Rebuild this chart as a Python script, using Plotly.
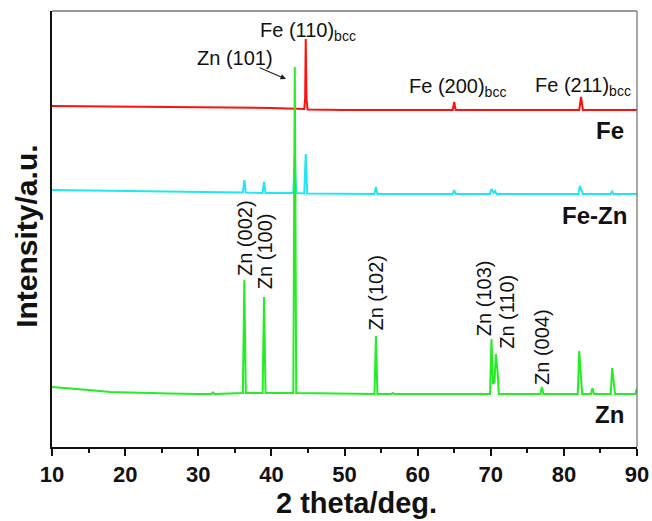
import plotly.graph_objects as go

# ---- data (2 theta in degrees, intensity in arbitrary units above each pattern's own baseline) ----
zn_x = [10, 12, 15, 18, 22, 26, 30, 31.8, 32.0, 32.2, 36.1, 36.3, 36.5, 38.8, 39.0, 39.2,
        43.0, 43.2, 43.4, 54.1, 54.3, 54.5, 56.4, 56.6, 56.8, 69.9, 70.1, 70.3, 70.5, 70.7,
        70.95, 71.1, 76.8, 77.0, 77.2, 81.9, 82.1, 82.35, 82.5, 83.7, 83.9, 84.1, 86.4, 86.6,
        86.85, 87.0, 89.8, 90]
zn_y = [7, 6, 4, 2, 1, 0.5, 0, 0, 1.5, 0, 1, 114, 1, 1, 97, 1,
        1, 327, 1, 0, 58, 0, 0, 1, 0, 0, 55, 10, 12, 40,
        21, 0, 0, 7, 0, 0, 43, 19, 0, 0, 6, 0, 0, 26,
        8, 0, 0, 6]

fezn_x = [10, 20, 30, 36.1, 36.3, 36.5, 38.8, 39.0, 39.2, 40, 43.0, 43.2, 43.4, 44.5, 44.7,
          44.9, 50, 54.1, 54.3, 54.5, 64.8, 65.0, 65.2, 69.9, 70.1, 70.4, 70.6, 70.8, 82.0,
          82.2, 82.4, 82.6, 86.4, 86.6, 86.8, 90]
fezn_y = [4, 3, 2, 1.5, 14, 1.5, 1, 12, 1, 1, 1, 37, 1, 0.5, 40,
          0.5, 0, 0, 7, 0, 0, 4, 0, 0, 5, 1, 3, 0, 0,
          8, 4, 0, 0, 2.5, 0, 0]

fe_x = [10, 20, 30, 40, 44.5, 44.62, 44.7, 44.8, 44.95, 50, 64.8, 65.0, 65.2, 82.1, 82.35,
        82.6, 90]
fe_y = [4, 3.5, 3, 2, 1, 12, 71, 12, 0.5, 0, 0, 8, 0, 0, 13,
        0, 0]

zn_offset, fezn_offset, fe_offset = 53, 253, 337

x_ticks = [10, 20, 30, 40, 50, 60, 70, 80, 90]

# peak labels: (text, x, y, rotation)
peak_labels = [
    ("Zn (002)", 36.4, 209, -90),
    ("Zn (100)", 39.15, 196, -90),
    ("Zn (102)", 54.25, 154, -90),
    ("Zn (103)", 69.1, 149, -90),
    ("Zn (110)", 72.2, 135, -90),
    ("Zn (004)", 77.0, 100, -90),
]
fe_labels = [
    ("Fe (110)<sub>bcc</sub>", 38.2, 416),
    ("Fe (200)<sub>bcc</sub>", 58.6, 360),
    ("Fe (211)<sub>bcc</sub>", 75.8, 361),
]
series_labels = [("Fe", 88.5, 317), ("Fe-Zn", 88.95, 232), ("Zn", 88.5, 33)]

FONT = "Liberation Sans, Arial, sans-serif"

fig = go.Figure()
fig.add_trace(go.Scatter(x=fe_x, y=[v + fe_offset for v in fe_y], mode="lines",
                         line=dict(color="#ff1010", width=2), name="Fe"))
fig.add_trace(go.Scatter(x=fezn_x, y=[v + fezn_offset for v in fezn_y], mode="lines",
                         line=dict(color="#1fe6f5", width=2), name="Fe-Zn"))
fig.add_trace(go.Scatter(x=zn_x, y=[v + zn_offset for v in zn_y], mode="lines",
                         line=dict(color="#22ee22", width=2), name="Zn"))

ann = []
for t, x, y, rot in peak_labels:
    ann.append(dict(text=t, x=x, y=y, xref="x", yref="y", showarrow=False, textangle=rot,
                    xanchor="center", yanchor="middle",
                    font=dict(size=20, color="#111", family=FONT)))
for t, x, y in fe_labels:
    ann.append(dict(text=t, x=x, y=y, xref="x", yref="y", showarrow=False, xanchor="left",
                    yanchor="middle", font=dict(size=20, color="#111", family=FONT)))
ann.append(dict(text="Zn (101)", x=35.0, y=389, xref="x", yref="y", showarrow=False,
                xanchor="center", yanchor="middle",
                font=dict(size=20, color="#111", family=FONT)))
ann.append(dict(text="", x=42.0, y=368, ax=38.2, ay=380, xref="x", yref="y", axref="x", ayref="y",
                showarrow=True, arrowhead=2, arrowsize=1, arrowwidth=1.1, arrowcolor="#222"))
for t, x, y in series_labels:
    ann.append(dict(text="<b>" + t + "</b>", x=x, y=y, xref="x", yref="y", showarrow=False,
                    xanchor="right", yanchor="middle",
                    font=dict(size=24, color="#111", family=FONT)))
ann.append(dict(text="<b>2 theta/deg.</b>", x=0.52, y=-0.128, xref="paper", yref="paper",
                showarrow=False, xanchor="center", yanchor="middle",
                font=dict(size=29, color="#111", family=FONT)))
ann.append(dict(text="<b>Intensity/a.u.</b>", x=-0.043, y=0.484, xref="paper", yref="paper",
                showarrow=False, textangle=-90, xanchor="center", yanchor="middle",
                font=dict(size=30, color="#111", family=FONT)))

fig.update_layout(
    width=652, height=521, autosize=False,
    margin=dict(l=52, r=15, t=11, b=74, autoexpand=False),
    paper_bgcolor="white", plot_bgcolor="white",
    showlegend=False,
    annotations=ann,
    shapes=[
        dict(type="line", xref="paper", yref="paper", x0=0, x1=1, y0=1, y1=1,
             line=dict(color="#777", width=1.3)),
        dict(type="line", xref="paper", yref="paper", x0=1, x1=1, y0=0, y1=1,
             line=dict(color="#777", width=1.3)),
    ],
)
fig.update_xaxes(range=[10, 90], tickvals=x_ticks, ticktext=["<b>%d</b>" % v for v in x_ticks],
                 ticks="outside", ticklen=7, tickwidth=1.5, tickcolor="#111",
                 minor=dict(dtick=5, ticks="outside", ticklen=4, tickwidth=1.5, tickcolor="#111"),
                 showline=True, linecolor="#111", linewidth=1.6, showgrid=False, zeroline=False,
                 automargin=False, tickfont=dict(size=22, color="#111", family=FONT))
fig.update_yaxes(range=[0, 436], showticklabels=False, ticks="", showline=True, automargin=False,
                 linecolor="#111", linewidth=1.6, showgrid=False, zeroline=False)

fig.write_html("out.html")
